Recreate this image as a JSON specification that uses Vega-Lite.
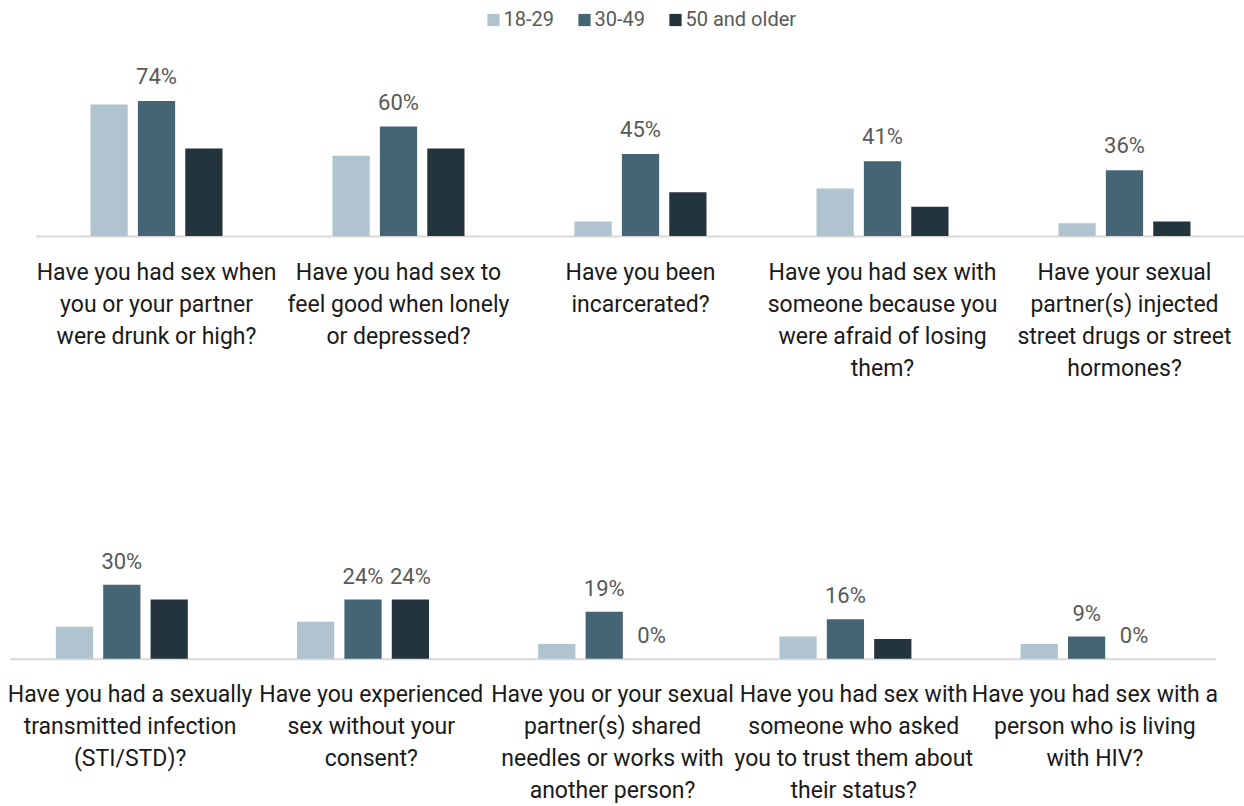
{
  "$schema": "https://vega.github.io/schema/vega-lite/v6.json",
  "padding": {"left": 6.5, "top": 10, "right": 0, "bottom": 0},
  "background": "white",
  "datasets": {
    "top": [
      {"question": "Have you had sex when|you or your partner|were drunk or high?", "age": "18-29", "value": 72, "label": ""},
      {"question": "Have you had sex when|you or your partner|were drunk or high?", "age": "30-49", "value": 74, "label": "74%"},
      {"question": "Have you had sex when|you or your partner|were drunk or high?", "age": "50 and older", "value": 48, "label": ""},
      {"question": "Have you had sex to|feel good when lonely|or depressed?", "age": "18-29", "value": 44, "label": ""},
      {"question": "Have you had sex to|feel good when lonely|or depressed?", "age": "30-49", "value": 60, "label": "60%"},
      {"question": "Have you had sex to|feel good when lonely|or depressed?", "age": "50 and older", "value": 48, "label": ""},
      {"question": "Have you been|incarcerated?", "age": "18-29", "value": 8, "label": ""},
      {"question": "Have you been|incarcerated?", "age": "30-49", "value": 45, "label": "45%"},
      {"question": "Have you been|incarcerated?", "age": "50 and older", "value": 24, "label": ""},
      {"question": "Have you had sex with|someone because you|were afraid of losing|them?", "age": "18-29", "value": 26, "label": ""},
      {"question": "Have you had sex with|someone because you|were afraid of losing|them?", "age": "30-49", "value": 41, "label": "41%"},
      {"question": "Have you had sex with|someone because you|were afraid of losing|them?", "age": "50 and older", "value": 16, "label": ""},
      {"question": "Have your sexual|partner(s) injected|street drugs or street|hormones?", "age": "18-29", "value": 7, "label": ""},
      {"question": "Have your sexual|partner(s) injected|street drugs or street|hormones?", "age": "30-49", "value": 36, "label": "36%"},
      {"question": "Have your sexual|partner(s) injected|street drugs or street|hormones?", "age": "50 and older", "value": 8, "label": ""}
    ],
    "bottom": [
      {"question": "Have you had a sexually|transmitted infection|(STI/STD)?", "age": "18-29", "value": 13, "label": ""},
      {"question": "Have you had a sexually|transmitted infection|(STI/STD)?", "age": "30-49", "value": 30, "label": "30%"},
      {"question": "Have you had a sexually|transmitted infection|(STI/STD)?", "age": "50 and older", "value": 24, "label": ""},
      {"question": "Have you experienced|sex without your|consent?", "age": "18-29", "value": 15, "label": ""},
      {"question": "Have you experienced|sex without your|consent?", "age": "30-49", "value": 24, "label": "24%"},
      {"question": "Have you experienced|sex without your|consent?", "age": "50 and older", "value": 24, "label": "24%"},
      {"question": "Have you or your sexual|partner(s) shared|needles or works with|another person?", "age": "18-29", "value": 6, "label": ""},
      {"question": "Have you or your sexual|partner(s) shared|needles or works with|another person?", "age": "30-49", "value": 19, "label": "19%"},
      {"question": "Have you or your sexual|partner(s) shared|needles or works with|another person?", "age": "50 and older", "value": 0, "label": "0%"},
      {"question": "Have you had sex with|someone who asked|you to trust them about|their status?", "age": "18-29", "value": 9, "label": ""},
      {"question": "Have you had sex with|someone who asked|you to trust them about|their status?", "age": "30-49", "value": 16, "label": "16%"},
      {"question": "Have you had sex with|someone who asked|you to trust them about|their status?", "age": "50 and older", "value": 8, "label": ""},
      {"question": "Have you had sex with a|person who is living|with HIV?", "age": "18-29", "value": 6, "label": ""},
      {"question": "Have you had sex with a|person who is living|with HIV?", "age": "30-49", "value": 9, "label": "9%"},
      {"question": "Have you had sex with a|person who is living|with HIV?", "age": "50 and older", "value": 0, "label": "0%"}
    ]
  },
  "bounds": "flush",
  "spacing": 470,
  "vconcat": [
    {
      "bounds": "flush",
      "spacing": 0,
      "hconcat": [
        {
          "width": 25.5,
          "height": 146,
          "data": {"values": []},
          "mark": {"type": "rect", "opacity": 0},
          "encoding": {}
        },
        {
          "width": 1210,
          "height": 146,
          "data": {"name": "top"},
          "encoding": {
            "x": {
              "field": "question", "type": "nominal", "sort": null, "title": null,
              "scale": {"paddingInner": 0.4545, "paddingOuter": 0.2273},
              "axis": {"labelExpr": "split(datum.value, '|')"}
            },
            "xOffset": {"field": "age", "type": "nominal", "sort": ["18-29", "30-49", "50 and older"], "scale": {"paddingInner": 0.214, "paddingOuter": 0}},
            "y": {"field": "value", "type": "quantitative", "scale": {"domain": [0, 80]}, "axis": null}
          },
          "layer": [
            {
              "mark": {"type": "bar"},
              "encoding": {
                "color": {
                  "field": "age", "type": "nominal",
                  "scale": {"domain": ["18-29", "30-49", "50 and older"], "range": ["#B0C4CF", "#466574", "#24343C"]},
                  "legend": {"title": null, "orient": "none", "direction": "horizontal", "legendX": 474, "legendY": -80}
                }
              }
            },
            {
              "mark": {"type": "text", "baseline": "alphabetic", "dy": -17, "fontSize": 22, "color": "#595959"},
              "encoding": {"text": {"field": "label"}}
            }
          ]
        }
      ]
    },
    {
      "width": 1206,
      "height": 98.8,
      "data": {"name": "bottom"},
      "encoding": {
        "x": {
          "field": "question", "type": "nominal", "sort": null, "title": null,
          "scale": {"paddingInner": 0.384, "paddingOuter": 0.192},
          "axis": {"labelExpr": "split(datum.value, '|')"}
        },
        "xOffset": {"field": "age", "type": "nominal", "sort": ["18-29", "30-49", "50 and older"], "scale": {"paddingInner": 0.223, "paddingOuter": 0}},
        "y": {"field": "value", "type": "quantitative", "scale": {"domain": [0, 40]}, "axis": null}
      },
      "layer": [
        {
          "mark": {"type": "bar"},
          "encoding": {
            "color": {
              "field": "age", "type": "nominal",
              "scale": {"domain": ["18-29", "30-49", "50 and older"], "range": ["#B0C4CF", "#466574", "#24343C"]},
              "legend": {"title": null, "orient": "none", "direction": "horizontal", "legendX": 474, "legendY": -80}
            }
          }
        },
        {
          "mark": {"type": "text", "baseline": "alphabetic", "dy": -16, "fontSize": 22, "color": "#595959"},
          "encoding": {"text": {"field": "label"}}
        }
      ]
    }
  ],
  "config": {
    "font": "Roboto",
    "view": {"stroke": null},
    "axis": {
      "domainColor": "#D9D9D9", "domainWidth": 2, "ticks": false, "grid": false,
      "labelAngle": 0, "labelFontSize": 23, "labelColor": "#1a1a1a", "labelPadding": 25,
      "labelLineHeight": 32, "labelLimit": 400, "labelOverlap": false, "labelBaseline": "top"
    },
    "legend": {
      "symbolType": "square", "symbolSize": 150, "symbolStrokeWidth": 0,
      "labelFontSize": 20, "labelColor": "#595959", "labelOffset": 0, "columnPadding": 20
    }
  }
}
